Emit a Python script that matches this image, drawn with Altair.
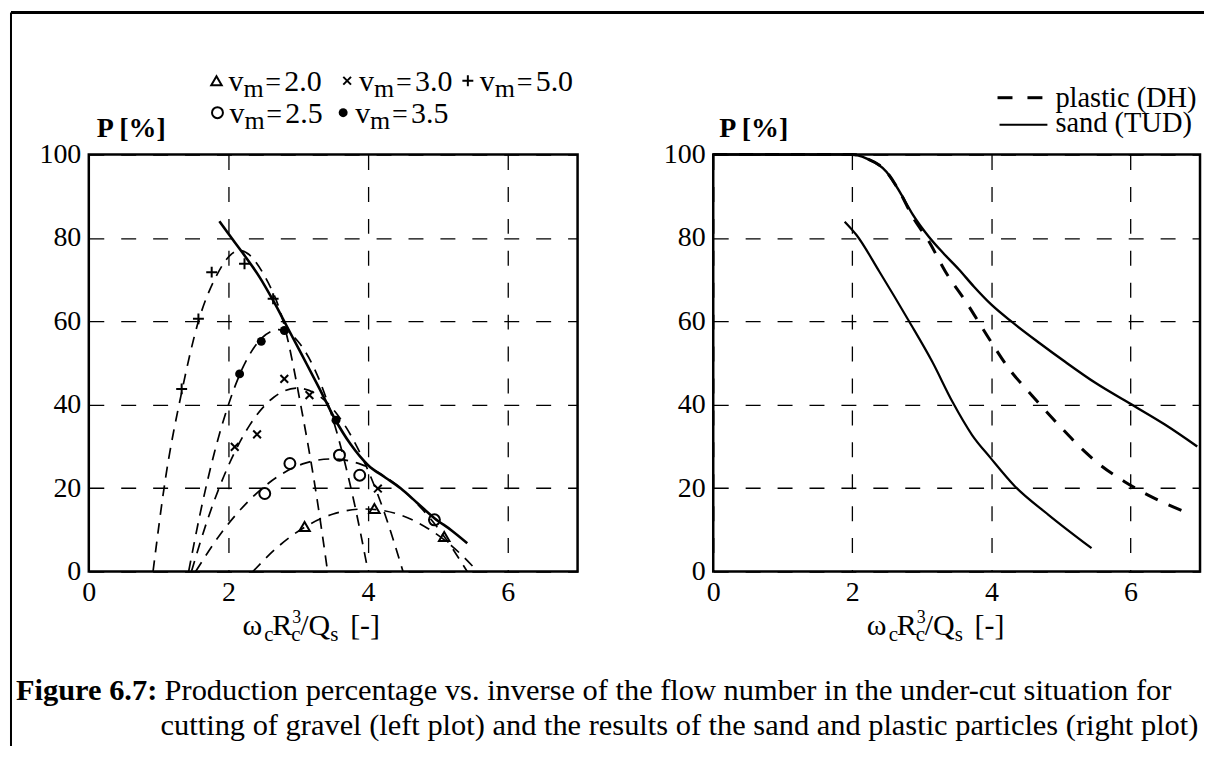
import altair as alt
import pandas as pd

SERIF = "Liberation Serif"

# ---------------- Left panel: gravel, dashed parabolic fits per v_m ----------------
FIT_20_X = [2.35, 2.70, 3.05, 3.50, 3.96, 4.40, 4.85, 5.20, 5.57]
FIT_20_P = [0.0, 5.8, 10.2, 13.8, 15.0, 13.9, 10.4, 6.1, 0.0]
FIT_25_X = [1.53, 1.90, 2.30, 2.70, 3.10, 3.48, 3.90, 4.30, 4.70, 5.05, 5.42]
FIT_25_P = [0.0, 9.3, 17.1, 22.7, 26.0, 27.0, 25.7, 22.1, 16.3, 9.3, 0.0]
FIT_30_X = [1.47, 1.70, 2.00, 2.30, 2.65, 2.98, 3.30, 3.65, 3.95, 4.20, 4.50]
FIT_30_P = [0.0, 12.4, 25.4, 35.0, 41.8, 44.0, 42.1, 35.5, 26.1, 15.7, 0.0]
FIT_35_X = [1.43, 1.60, 1.80, 2.00, 2.20, 2.45, 2.72, 3.00, 3.30, 3.55, 3.80, 4.00]
FIT_35_P = [0.0, 14.3, 28.6, 40.0, 48.7, 55.5, 58.0, 55.1, 46.0, 33.5, 16.6, 0.0]
FIT_50_X = [0.92, 1.10, 1.33, 1.57, 1.80, 2.16, 2.50, 2.80, 3.05, 3.25, 3.42]
FIT_50_P = [0.0, 22.5, 43.0, 60.0, 70.0, 77.0, 71.4, 59.0, 38.6, 19.4, 0.0]

# solid envelope
ENV_X = [1.87, 2.00, 2.20, 2.45, 2.64, 2.83, 3.05, 3.30, 3.52, 3.75, 4.00, 4.25, 4.47, 4.70, 4.95, 5.20, 5.42]
ENV_P = [84.0, 81.0, 76.5, 70.5, 65.0, 59.0, 52.0, 44.0, 36.7, 30.5, 25.5, 22.5, 19.9, 16.5, 12.8, 9.8, 6.8]

# measured points
PT_20_X = [3.09, 4.09, 5.09]
PT_20_P = [10.8, 15.1, 8.4]
PT_25_X = [2.52, 2.88, 3.59, 3.88, 4.95]
PT_25_P = [18.7, 25.9, 27.9, 23.1, 12.4]
PT_30_X = [2.09, 2.41, 2.80, 3.16, 4.14]
PT_30_P = [29.9, 32.9, 46.2, 42.3, 19.9]
PT_35_X = [2.16, 2.47, 2.80, 3.54]
PT_35_P = [47.4, 55.2, 57.8, 36.3]
PT_50_X = [1.33, 1.57, 1.76, 2.23, 2.64]
PT_50_P = [43.8, 60.6, 71.8, 73.8, 65.4]

VM_LABELS = ["2.0", "2.5", "3.0", "3.5", "5.0"]

# ---------------- Right panel: sand (TUD) and plastic (DH) ----------------
SAND_X = [0.0, 1.0, 2.0, 2.20, 2.49, 2.68, 2.87, 3.10, 3.30, 3.53, 3.75, 4.00, 4.30, 4.70, 5.06, 5.50, 5.98, 6.50, 6.96]
SAND_P = [100.0, 100.0, 100.0, 99.1, 95.9, 91.1, 85.6, 80.3, 76.5, 72.5, 68.3, 64.0, 59.8, 54.7, 50.3, 45.2, 40.4, 35.2, 30.0]
PLASTIC_X = [0.0, 1.0, 2.0, 2.20, 2.49, 2.68, 2.87, 3.10, 3.34, 3.63, 3.96, 4.25, 4.58, 5.01, 5.34, 5.53, 5.91, 6.34, 6.77]
PLASTIC_P = [100.0, 100.0, 100.0, 99.1, 95.9, 91.1, 85.0, 79.2, 71.9, 64.8, 56.0, 48.7, 42.3, 34.4, 28.8, 26.0, 21.6, 17.6, 14.4]
SAND2_X = [1.89, 2.06, 2.39, 2.82, 3.15, 3.44, 3.72, 3.99, 4.34, 4.82, 5.44]
SAND2_P = [83.9, 80.7, 71.9, 59.9, 50.3, 40.7, 32.8, 27.2, 20.4, 13.6, 5.6]

X_TICKS = [0, 2, 4, 6]
Y_TICKS = [0, 20, 40, 60, 80, 100]

CAPTION_BOLD = "Figure 6.7:"
CAPTION_1 = "Production percentage vs. inverse of the flow number in the under-cut situation for"
CAPTION_2 = "cutting of gravel (left plot) and the results of the sand and plastic particles (right plot)"

W_L, W_R, H = 490, 488, 418

xscale = alt.Scale(domain=[0, 7], nice=False, zero=False)
yscale = alt.Scale(domain=[0, 100], nice=False)
grid_kw = dict(grid=True, domain=False, ticks=False, title=None, gridColor="black",
               gridDash=[15, 17], gridWidth=1.3, gridOpacity=1, labelFont=SERIF,
               labelFontSize=28, labelColor="black")
xaxis = alt.Axis(values=X_TICKS, labelFlush=False, labelPadding=7, **grid_kw)
yaxis = alt.Axis(values=Y_TICKS, labelPadding=8, **grid_kw)


def X():
    return alt.X("x:Q", scale=xscale, axis=xaxis)


def Y():
    return alt.Y("P:Q", scale=yscale, axis=yaxis)


def frame(xs, ps, name):
    return pd.DataFrame({"x": xs, "P": ps, "s": name})


def txt(text, x, y, size=30, weight="normal", align="left"):
    return alt.Chart(alt.Data(values=[{}])).mark_text(
        text=text, font=SERIF, fontSize=size, fontWeight=weight, align=align,
        baseline="alphabetic", color="black").encode(x=alt.value(x), y=alt.value(y))


def sym(shape, x, y, size, filled=False):
    return alt.Chart(alt.Data(values=[{}])).mark_point(
        shape=shape, size=size, filled=filled, color="black", opacity=1,
        strokeWidth=2).encode(x=alt.value(x), y=alt.value(y))


def hline(x1, x2, y, width):
    return alt.Chart(alt.Data(values=[{}])).mark_rule(color="black", strokeWidth=width).encode(
        x=alt.value(x1), x2=alt.value(x2), y=alt.value(y))


X_SHAPE = "M-1,-1L1,1M-1,1L1,-1"
PLUS_SHAPE = "M-1,0L1,0M0,-1L0,1"

fits = pd.concat([
    frame(FIT_20_X, FIT_20_P, "2.0"), frame(FIT_25_X, FIT_25_P, "2.5"),
    frame(FIT_30_X, FIT_30_P, "3.0"), frame(FIT_35_X, FIT_35_P, "3.5"),
    frame(FIT_50_X, FIT_50_P, "5.0")])

fit_layer = alt.Chart(fits).mark_line(color="black", strokeWidth=1.7, strokeDash=[11, 8],
                                      interpolate="monotone").encode(x=X(), y=Y(), detail="s:N")
env_layer = alt.Chart(frame(ENV_X, ENV_P, "env")).mark_line(
    color="black", strokeWidth=2.6, interpolate="monotone").encode(x=X(), y=Y())


def pts(xs, ps, shape, size, filled=False):
    return alt.Chart(frame(xs, ps, "p")).mark_point(
        shape=shape, size=size, filled=filled, color="black", opacity=1, strokeWidth=2
    ).encode(x=X(), y=Y())


marks = [
    pts(PT_20_X, PT_20_P, "triangle-up", 110),
    pts(PT_25_X, PT_25_P, "circle", 120),
    pts(PT_30_X, PT_30_P, X_SHAPE, 60),
    pts(PT_35_X, PT_35_P, "circle", 80, True),
    pts(PT_50_X, PT_50_P, PLUS_SHAPE, 120),
]


def legend_entry(shape, size, filled, sx, base, label):
    return [
        sym(shape, sx, base - 10, size, filled),
        txt("v", sx + 12, base, 30),
        txt("m", sx + 27, base + 6, 26),
        txt("=", sx + 49, base, 28),
        txt(label, sx + 68, base, 30),
    ]


def axis_title():
    B = 482
    return [
        txt("\u03c9", 154, B, 30), txt("c", 176, B + 6, 21),
        txt("R", 184, B, 30), txt("c", 203, B + 6, 21), txt("3", 204, B - 12, 18),
        txt("/Q", 212, B, 30), txt("s", 242, B + 6, 21), txt("[-]", 262, B, 30),
    ]


left_annot = []
left_annot += legend_entry("triangle-up", 110, False, 128, -64, VM_LABELS[0])
left_annot += legend_entry(X_SHAPE, 60, False, 259, -64, VM_LABELS[2])
left_annot += legend_entry(PLUS_SHAPE, 120, False, 380, -64, VM_LABELS[4])
left_annot += legend_entry("circle", 120, False, 129, -32, VM_LABELS[1])
left_annot += legend_entry("circle", 80, True, 255, -32, VM_LABELS[3])
left_annot += [txt("P [%]", 8, -18, 28, "bold")]
left_annot += axis_title()
# figure frame and caption
left_annot += [
    hline(-78, 1118, -142.5, 3),
    alt.Chart(alt.Data(values=[{}])).mark_rule(color="black", strokeWidth=2).encode(
        x=alt.value(-78), y=alt.value(-142.5), y2=alt.value(593)),
    txt(CAPTION_BOLD, -73, 547, 30.5, "bold"),
    txt(CAPTION_1, 76, 547, 30.5),
    txt(CAPTION_2, 72, 582, 30.5),
]

left = alt.layer(fit_layer, env_layer, *marks, *left_annot).properties(width=W_L, height=H)

sand = alt.Chart(frame(SAND_X, SAND_P, "sand")).mark_line(
    color="black", strokeWidth=2.4, interpolate="monotone").encode(x=X(), y=Y())
sand2 = alt.Chart(frame(SAND2_X, SAND2_P, "sand2")).mark_line(
    color="black", strokeWidth=2.2, interpolate="monotone").encode(x=X(), y=Y())
plastic = alt.Chart(frame(PLASTIC_X, PLASTIC_P, "plastic")).mark_line(
    color="black", strokeWidth=3, strokeDash=[14, 12], interpolate="monotone").encode(x=X(), y=Y())

right_annot = [
    txt("P [%]", 6, -18, 28, "bold"),
    hline(285, 300, -57, 3), hline(315, 330, -57, 3),
    hline(287, 335, -30, 2),
    txt("plastic (DH)", 343, -48, 28.5),
    txt("sand (TUD)", 343, -23, 28.5),
] + axis_title()

right = alt.layer(sand, sand2, plastic, *right_annot).properties(width=W_R, height=H)

chart = alt.hconcat(left, right, spacing=136, bounds="flush").properties(
    padding=0
).configure_view(stroke="black", strokeWidth=2.5)

chart.save("out.html", embed_options={"renderer": "svg", "actions": False})
